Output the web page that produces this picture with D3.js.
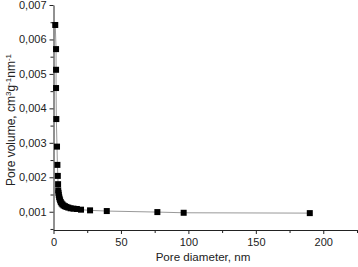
<!DOCTYPE html>
<html><head><meta charset="utf-8">
<script src="https://cdn.jsdelivr.net/npm/d3@7"></script>
<style>body{margin:0;background:#fff}svg{display:block}text{font-family:"Liberation Sans",Arial,sans-serif;fill:#222}</style>
</head><body><svg id="c" width="358" height="267"></svg>
<script>
const diameter = [1.3,1.9,1.9,1.9,2.1,2.6,2.9,3.2,3.4,3.5,3.7,3.9,4.2,4.5,4.9,5.4,6.0,6.7,7.5,8.5,9.6,11,12.7,14.8,17.3,20.4,27.1,39.5,77,96.5,190];
const volume = [0.00642,0.00572,0.00512,0.00459,0.00369,0.00289,0.00236,0.00204,0.00180,0.00162,0.00155,0.00149,0.00143,0.00138,0.00133,0.00128,0.00124,0.00121,0.00118,0.00116,0.00114,0.00112,0.00110,0.00109,0.00108,0.00106,0.00104,0.00102,0.00099,0.00097,0.00096];
const xTicks = [0,50,100,150,200];
const yTicks = [0.001,0.002,0.003,0.004,0.005,0.006,0.007];

const svg = d3.select("#c");
const x = d3.scaleLinear().domain([0,225]).range([53.5,357]);
const y = d3.scaleLinear().domain([0.00047,0.007]).range([230,5]);
const fmt = d => d3.format(".3f")(d).replace(".", ",");

const gx = svg.append("g").attr("transform","translate(0,230)");
gx.call(d3.axisBottom(x).tickValues(xTicks).tickSize(4).tickPadding(4).tickSizeOuter(0));
gx.append("g").call(d3.axisBottom(x).tickValues(d3.range(25,226,50)).tickSize(3).tickFormat("").tickSizeOuter(0)).select(".domain").remove();
const gy = svg.append("g").attr("transform","translate(53.5,0)");
gy.call(d3.axisLeft(y).tickValues(yTicks).tickFormat(fmt).tickSize(4).tickPadding(3).tickSizeOuter(0));
gy.append("g").call(d3.axisLeft(y).tickValues([0.0005,0.0015,0.0025,0.0035,0.0045,0.0055,0.0065]).tickSize(3).tickFormat("").tickSizeOuter(0)).select(".domain").remove();
svg.selectAll(".domain").attr("stroke","#222");
svg.selectAll(".tick line").attr("stroke","#222");
svg.selectAll(".tick text").attr("font-size","11px").attr("font-family","Liberation Sans, Arial, sans-serif").attr("fill","#222");

const pts = diameter.map((d,i)=>[d,volume[i]]);
svg.append("path").datum(pts).attr("fill","none").attr("stroke","#999").attr("stroke-width",1)
  .attr("d", d3.line().x(d=>x(d[0])).y(d=>y(d[1])));
svg.append("g").selectAll("rect").data(pts).join("rect")
  .attr("x",d=>x(d[0])-3).attr("y",d=>y(d[1])-3).attr("width",6).attr("height",6).attr("fill","#000");

svg.append("text").attr("x",203).attr("y",261).attr("text-anchor","middle").attr("font-size","11.6px").text("Pore diameter, nm");
const yl = svg.append("text").attr("transform","translate(15,120) rotate(-90)").attr("text-anchor","middle").attr("font-size","12px");
yl.append("tspan").text("Pore volume, cm");
yl.append("tspan").attr("dy","-4").attr("font-size","8px").text("3");
yl.append("tspan").attr("dy","4").text("g");
yl.append("tspan").attr("dy","-4").attr("font-size","8px").text("-1");
yl.append("tspan").attr("dy","4").text("nm");
yl.append("tspan").attr("dy","-4").attr("font-size","8px").text("-1");
</script></body></html>
